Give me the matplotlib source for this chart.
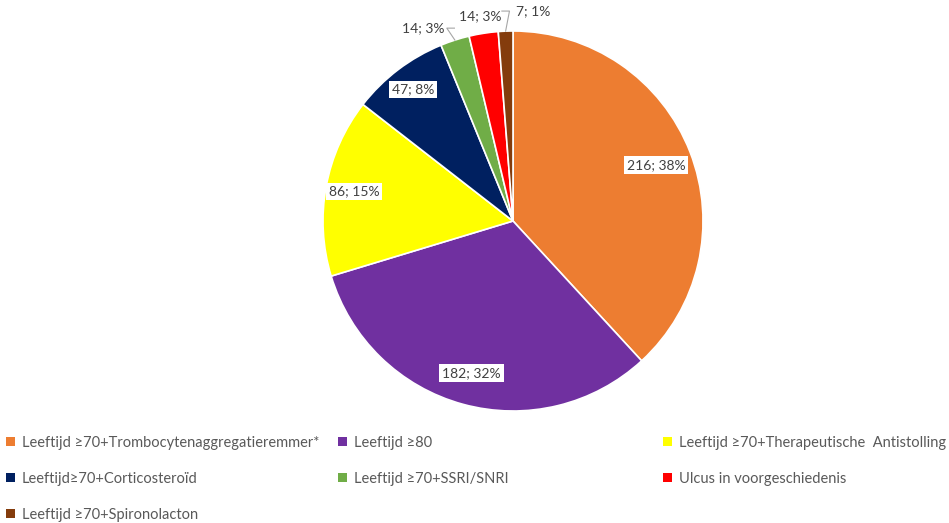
import numpy as np
import matplotlib.pyplot as plt
from matplotlib.patches import Patch

plt.rcParams['font.family'] = ['Lato', 'DejaVu Sans']

# data
categories = ['Leeftijd ≥70+Trombocytenaggregatieremmer*', 'Leeftijd ≥80',
              'Leeftijd ≥70+Therapeutische  Antistolling', 'Leeftijd≥70+Corticosteroïd',
              'Leeftijd ≥70+SSRI/SNRI', 'Ulcus in voorgeschiedenis',
              'Leeftijd ≥70+Spironolacton']
counts = [216, 182, 86, 47, 14, 14, 7]
pct = [38, 32, 15, 8, 3, 3, 1]  # as printed in the chart
colors = ['#ED7D31', '#7030A0', '#FFFF00', '#002060', '#70AD47', '#FF0000', '#843C0C']

labels = [f'{c}; {p}%' for c, p in zip(counts, pct)]

fig = plt.figure(figsize=(9.49, 5.23), dpi=100)
W, H = 949, 523
cx, cy, r = 513, 221, 190
ax = fig.add_axes([(cx - r) / W, (H - cy - r) / H, 2 * r / W, 2 * r / H])

wedges, _ = ax.pie(counts, colors=colors, startangle=90, counterclock=False,
                   radius=1, wedgeprops=dict(edgecolor='white', linewidth=1.2))
ax.set_xlim(-1, 1)
ax.set_ylim(-1, 1)
ax.set_aspect('equal')

txt_col = '#404040'
box = dict(boxstyle='square,pad=0.2', facecolor='white', edgecolor='none')

# inside labels (radial fraction per slice) and outside labels with leaders
inside_r = [0.81, 0.83, 0.85, 0.87]
outside = {4: (1.12, 115), 5: (1.09, 99), 6: (1.11, 84.5)}
for i, w in enumerate(wedges):
    mid = np.deg2rad((w.theta1 + w.theta2) / 2)
    if i < len(inside_r):
        rr = inside_r[i]
        ax.text(rr * np.cos(mid), rr * np.sin(mid), labels[i], ha='center', va='center',
                fontsize=10, color=txt_col, bbox=box)
    else:
        rr, ang = outside[i]
        a = np.deg2rad(ang)
        tx, ty = rr * np.cos(a), rr * np.sin(a)
        ax.text(tx, ty, labels[i], ha='center', va='center', fontsize=10, color=txt_col)

# leader lines for small slices
for i, side in [(4, 1), (6, -1)]:
    w = wedges[i]
    mid = np.deg2rad((w.theta1 + w.theta2) / 2)
    rr, ang = outside[i]
    a = np.deg2rad(ang)
    tx, ty = rr * np.cos(a), rr * np.sin(a)
    ex = tx + side * 0.165
    ax.plot([ex, ex - side * 0.04, np.cos(mid)], [ty, ty, 1.0 * np.sin(mid)],
            color='#A6A6A6', lw=0.8, clip_on=False)

# legend in three columns, row-major order
col_x = [8, 340, 665]
for col in range(3):
    idx = list(range(col, len(categories), 3))
    handles = [Patch(facecolor=colors[k], edgecolor='none') for k in idx]
    fig.legend(handles, [categories[k] for k in idx],
               loc='upper left', bbox_to_anchor=((col_x[col] - 8) / W, 1 - 430 / H),
               frameon=False, fontsize=10.5, labelcolor='#595959',
               handlelength=0.6, handleheight=0.6, handletextpad=0.5,
               labelspacing=1.5, borderaxespad=0, borderpad=0.4)

fig.savefig('out.png', dpi=100)
